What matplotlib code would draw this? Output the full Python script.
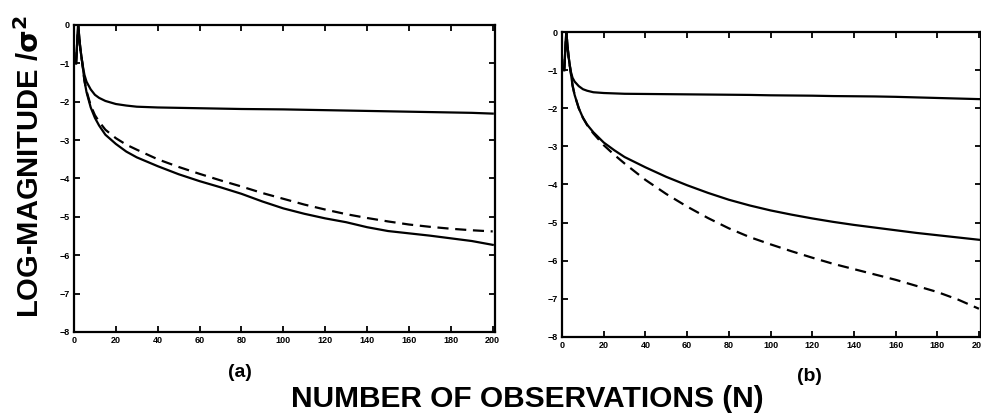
import numpy as np
import matplotlib
matplotlib.use('Agg')
import matplotlib.pyplot as plt

plt.rcParams['font.family'] = ['Liberation Sans', 'DejaVu Sans']

# number of observations
n_a = [1, 2, 3, 4, 5, 6, 8, 10, 12, 15, 20, 25, 30, 40, 50, 60, 70, 80, 90,
       100, 110, 120, 130, 140, 150, 160, 170, 180, 190, 200]

# panel (a)
upper_a = [-1, 0, -0.6, -1.0, -1.3, -1.48, -1.68, -1.82, -1.9, -1.98, -2.06, -2.1, -2.13, -2.15,
           -2.16, -2.17, -2.18, -2.19, -2.195, -2.2, -2.21, -2.22, -2.23, -2.24, -2.25, -2.26,
           -2.27, -2.28, -2.29, -2.31]
lower_a = [-1, 0, -0.6, -1.0, -1.45, -1.75, -2.15, -2.42, -2.62, -2.86, -3.1, -3.3, -3.45, -3.68,
           -3.89, -4.07, -4.23, -4.4, -4.6, -4.78, -4.92, -5.04, -5.14, -5.27, -5.37, -5.43,
           -5.49, -5.56, -5.63, -5.73]
dashed_a = [-1, 0, -0.6, -1.0, -1.45, -1.72, -2.1, -2.35, -2.52, -2.73, -2.95, -3.12, -3.25, -3.5,
            -3.7, -3.88, -4.05, -4.21, -4.38, -4.53, -4.68, -4.81, -4.93, -5.03, -5.12, -5.2,
            -5.26, -5.31, -5.35, -5.38]

# panel (b)
upper_b = [-1, 0, -0.6, -1.0, -1.2, -1.3, -1.42, -1.5, -1.54, -1.58, -1.6, -1.61, -1.62, -1.625,
           -1.63, -1.635, -1.64, -1.645, -1.65, -1.66, -1.665, -1.67, -1.68, -1.685, -1.69,
           -1.70, -1.715, -1.73, -1.745, -1.76]
lower_b = [-1, 0, -0.6, -1.0, -1.4, -1.65, -2.0, -2.25, -2.43, -2.63, -2.9, -3.1, -3.28, -3.55,
           -3.8, -4.02, -4.22, -4.4, -4.55, -4.68, -4.79, -4.89, -4.98, -5.06, -5.13, -5.2,
           -5.27, -5.33, -5.39, -5.45]
dashed_b = [-1, 0, -0.6, -1.0, -1.4, -1.65, -2.0, -2.25, -2.44, -2.66, -2.97, -3.22, -3.45, -3.88,
            -4.25, -4.58, -4.88, -5.15, -5.38, -5.57, -5.75, -5.92, -6.08, -6.22, -6.36, -6.5,
            -6.66, -6.82, -7.02, -7.26]

x_ticks = [0, 20, 40, 60, 80, 100, 120, 140, 160, 180, 200]
y_ticks = [0, -1, -2, -3, -4, -5, -6, -7, -8]

fig = plt.figure(figsize=(9.81, 4.16), dpi=100)
ax_a = fig.add_axes([0.0754, 0.202, 0.429, 0.738])
ax_b = fig.add_axes([0.573, 0.19, 0.427, 0.733])

for ax, up, lo, da in [(ax_a, upper_a, lower_a, dashed_a),
                       (ax_b, upper_b, lower_b, dashed_b)]:
    ax.plot(n_a, up, color='black', lw=1.6)
    ax.plot(n_a, lo, color='black', lw=1.6)
    ax.plot(n_a, da, color='black', lw=1.6, linestyle=(0, (5, 3)))
    ax.set_xlim(0, 201)
    ax.set_ylim(-8, 0)
    ax.set_xticks(x_ticks)
    ax.set_yticks(y_ticks)
    ax.tick_params(direction='in', top=True, right=True, length=4, width=1.3,
                   labelsize=6.5, pad=3)
    for lab in ax.get_xticklabels() + ax.get_yticklabels():
        lab.set_fontweight('bold')
    for s in ax.spines.values():
        s.set_linewidth(1.6)

fig.text(0.031, 0.6, 'LOG-MAGNITUDE /$\\mathbf{\\sigma^2}$', rotation=90,
         ha='center', va='center', fontsize=21, fontweight='bold')
fig.text(0.538, 0.04, 'NUMBER OF OBSERVATIONS (N)', ha='center', va='center',
         fontsize=21.5, fontweight='bold')
fig.text(0.245, 0.105, '(a)', ha='center', va='center', fontsize=14, fontweight='bold')
fig.text(0.825, 0.095, '(b)', ha='center', va='center', fontsize=14, fontweight='bold')

fig.savefig('out.png', dpi=100)
